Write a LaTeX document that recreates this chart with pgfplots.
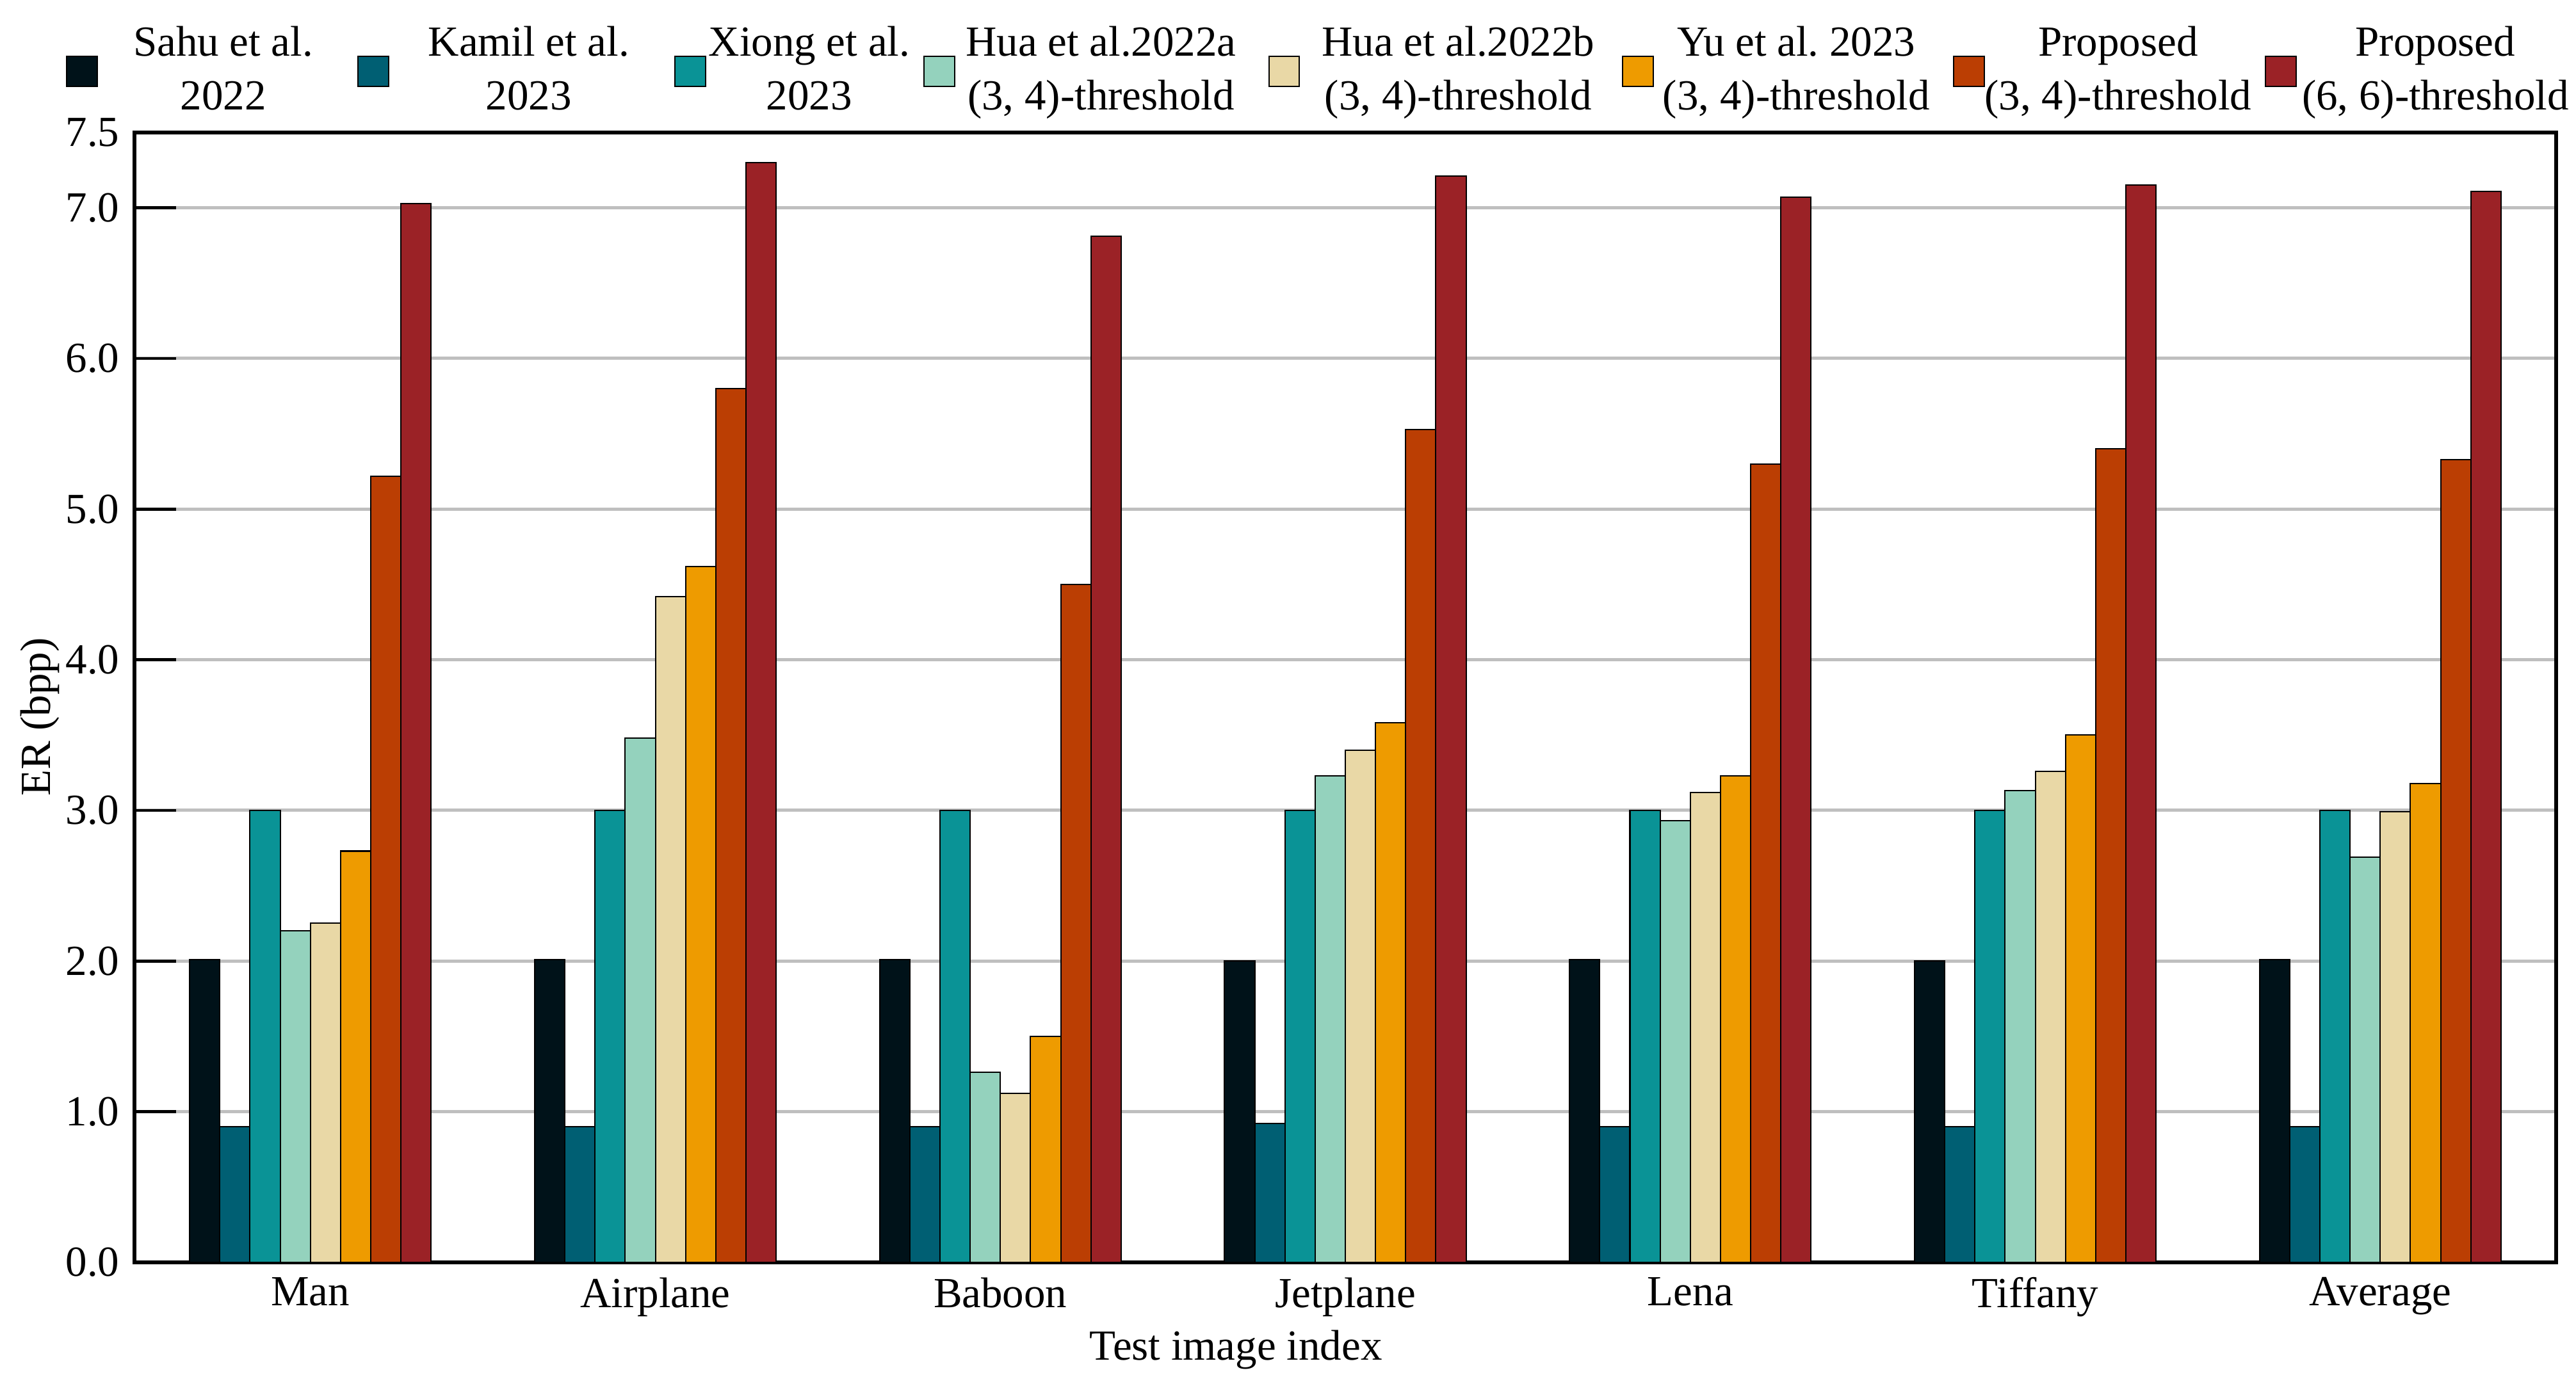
\documentclass[border=0pt]{standalone}
\usepackage{fontspec}
\setmainfont{Liberation Serif}
\usepackage{pgfplots}
\usepackage{pgfplotstable}
\pgfplotsset{compat=1.18}
\frenchspacing
\definecolor{c1}{HTML}{001219}
\definecolor{c2}{HTML}{005F73}
\definecolor{c3}{HTML}{0A9396}
\definecolor{c4}{HTML}{94D2BD}
\definecolor{c5}{HTML}{E9D8A6}
\definecolor{c6}{HTML}{EE9B00}
\definecolor{c7}{HTML}{BB3E03}
\definecolor{c8}{HTML}{9B2226}
\pgfplotstableread{
x sahu kamil xiong huaa huab yu pa pb
0 2.01 0.90 3.00 2.20 2.25 2.73 5.22 7.03
1 2.01 0.90 3.00 3.48 4.42 4.62 5.80 7.30
2 2.01 0.90 3.00 1.26 1.12 1.50 4.50 6.81
3 2.00 0.92 3.00 3.23 3.40 3.58 5.53 7.21
4 2.01 0.90 3.00 2.93 3.12 3.23 5.30 7.07
5 2.00 0.90 3.00 3.13 3.26 3.50 5.40 7.15
6 2.01 0.90 3.00 2.69 2.99 3.18 5.33 7.11
}\datatable
\begin{document}
\begin{tikzpicture}
\begin{axis}[
  scale only axis, width=19.84cm, height=9.259cm,
  xmin=-0.51, xmax=6.51, ymin=0, ymax=7.5,
  ytick={0,1,2,3,4,5,6,7,7.5},
  y tick label style={/pgf/number format/.cd, fixed, fixed zerofill, precision=1, assume math mode=true, /tikz/.cd},
  xtick={0,...,6},
  xticklabels={Man,Airplane,Baboon,Jetplane,Lena,Tiffany,Average},
  x tick style={draw=none},
  ytick pos=left, tick align=inside, major tick length=0.341cm,
  y tick style={line width=0.7pt, black},
  axis line style={line width=1pt},
  ymajorgrids, grid style={line width=0.75pt, color=black!25},
  xlabel={Test image index}, ylabel={ER (bpp)},
  xlabel style={at={(ticklabel cs:0.4548)}, yshift=0.135cm},
  ylabel style={at={(ticklabel cs:0.4827)}, yshift=-0.19cm},
  legend columns=8,
  legend cell align=center,
  legend image code/.code={\draw[#1, line width=0.3pt] (0cm,-0.125cm) rectangle (0.25cm,0.125cm);},
  legend style={at={(-0.02856,1.0136)}, anchor=south west, draw=none, fill=none, inner sep=0pt,
    font=\fontsize{10}{12.5}\selectfont,
    nodes={align=center, inner sep=0pt},
    /tikz/column 1/.style={column sep=0.289cm},
    /tikz/column 2/.style={column sep=0.362cm},
    /tikz/column 3/.style={column sep=0.320cm},
    /tikz/column 4/.style={column sep=0.367cm},
    /tikz/column 5/.style={column sep=0.021cm},
    /tikz/column 6/.style={column sep=0.110cm},
    /tikz/column 7/.style={column sep=0.087cm},
    /tikz/column 8/.style={column sep=0.262cm},
    /tikz/column 9/.style={column sep=0.178cm},
    /tikz/column 10/.style={column sep=0.226cm},
    /tikz/column 11/.style={column sep=0.073cm},
    /tikz/column 12/.style={column sep=0.190cm},
    /tikz/column 13/.style={column sep=0.0cm},
    /tikz/column 14/.style={column sep=0.110cm},
    /tikz/column 15/.style={column sep=0.042cm}},
  every axis plot/.append style={ybar, bar width=0.0875, draw=black, line width=0.3pt},
]
\addplot[fill=c1, bar shift=-0.30625] table[x=x, y=sahu] {\datatable};
\addlegendentry{Sahu et al.\\2022}
\addplot[fill=c2, bar shift=-0.21875] table[x=x, y=kamil] {\datatable};
\addlegendentry{Kamil et al.\\2023}
\addplot[fill=c3, bar shift=-0.13125] table[x=x, y=xiong] {\datatable};
\addlegendentry{Xiong et al.\\2023}
\addplot[fill=c4, bar shift=-0.04375] table[x=x, y=huaa] {\datatable};
\addlegendentry{Hua et al.2022a\\(3, 4)-threshold}
\addplot[fill=c5, bar shift=0.04375] table[x=x, y=huab] {\datatable};
\addlegendentry{Hua et al.2022b\\(3, 4)-threshold}
\addplot[fill=c6, bar shift=0.13125] table[x=x, y=yu] {\datatable};
\addlegendentry{Yu et al. 2023\\(3, 4)-threshold}
\addplot[fill=c7, bar shift=0.21875] table[x=x, y=pa] {\datatable};
\addlegendentry{Proposed\\(3, 4)-threshold}
\addplot[fill=c8, bar shift=0.30625] table[x=x, y=pb] {\datatable};
\addlegendentry{Proposed\\(6, 6)-threshold}
\coordinate (bbsw) at (rel axis cs:-0.05553,-0.10765);
\coordinate (bbne) at (rel axis cs:1.00820,1.11728);
\end{axis}
\pgfresetboundingbox
\useasboundingbox (bbsw) rectangle (bbne);
\end{tikzpicture}
\end{document}
